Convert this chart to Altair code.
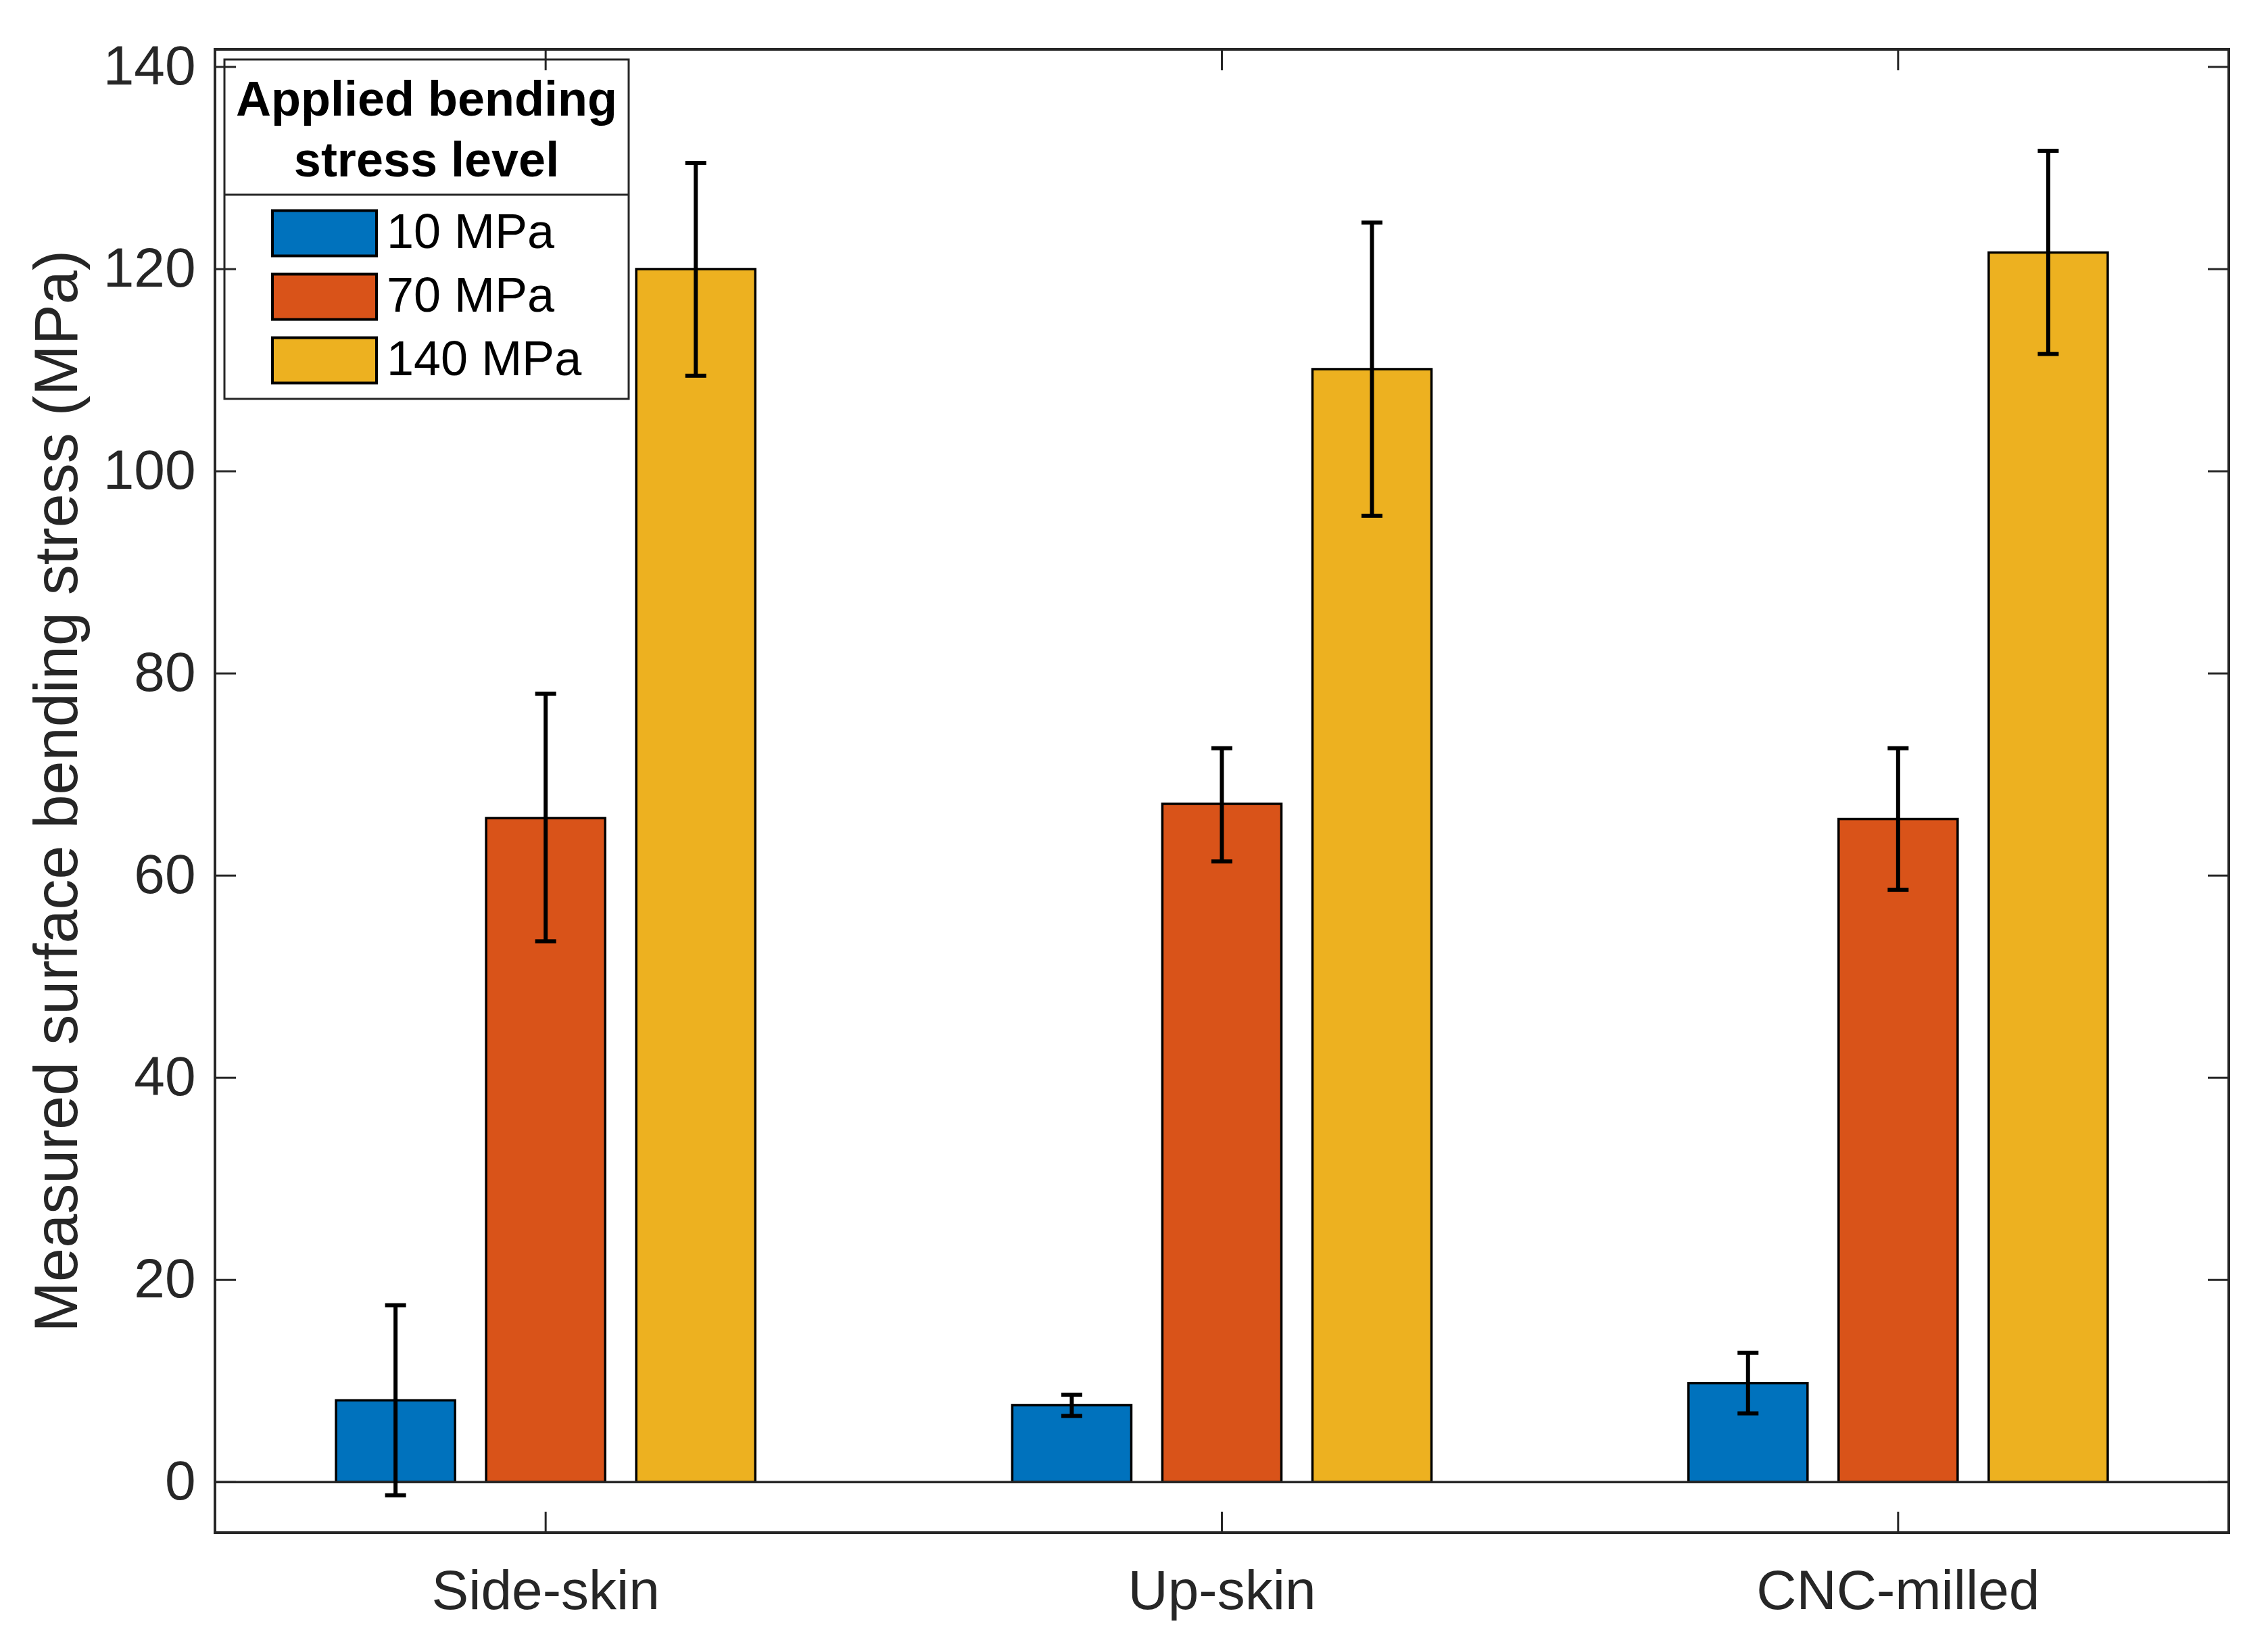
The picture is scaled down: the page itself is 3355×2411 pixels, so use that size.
import altair as alt
import pandas as pd

# ---- data ----
finishes = ["Side-skin", "Up-skin", "CNC-milled"]
levels = ["10 MPa", "70 MPa", "140 MPa"]
colors = ["#0072BD", "#D95319", "#EDB120"]

mean_10 = [8.1, 7.6, 9.8]
low_10 = [-1.3, 6.55, 6.8]
high_10 = [17.5, 8.65, 12.8]

mean_70 = [65.7, 67.1, 65.6]
low_70 = [53.5, 61.4, 58.6]
high_70 = [78.0, 72.6, 72.6]

mean_140 = [120.0, 110.1, 121.65]
low_140 = [109.45, 95.6, 111.6]
high_140 = [130.5, 124.6, 131.7]

y_ticks = [0, 20, 40, 60, 80, 100, 120, 140]
y_title = "Measured surface bending stress (MPa)"
legend_title = ["Applied bending", "stress level"]

rows = []
for lvl, ms, los, his in zip(levels, [mean_10, mean_70, mean_140],
                             [low_10, low_70, low_140], [high_10, high_70, high_140]):
    for f, m, lo, hi in zip(finishes, ms, los, his):
        rows.append({"finish": f, "level": lvl, "mean": m, "low": lo, "high": hi})
df = pd.DataFrame(rows)

W, H = 2979, 2194
FONT = "Liberation Sans"
AX = "#262626"

y_scale = alt.Scale(domain=[-5, 141.74], nice=False)
x_scale = alt.Scale(range=[-11, 2990], paddingInner=0, paddingOuter=0)
xo_scale = alt.Scale(paddingInner=0.207, paddingOuter=0.856)

x_axis = alt.Axis(orient="bottom", labelFont=FONT, labelFontSize=82, labelColor=AX,
                  labelPadding=47, labelAngle=0, labelLimit=2000, ticks=False,
                  tickSize=0, domain=False, grid=False, title=None)
y_axis = alt.Axis(orient="left", values=y_ticks, labelFont=FONT, labelFontSize=82,
                  labelColor=AX, labelPadding=29, labelLimit=2000, ticks=False,
                  tickSize=0, domain=False, grid=False, title=y_title, titleFont=FONT,
                  titleFontSize=90, titleFontWeight="normal", titleColor=AX,
                  titleX=-186, titleY=1097, titleBaseline="bottom", titleAngle=270,
                  titleAlign="center")

legend = alt.Legend(title=legend_title, orient="none", legendX=14, legendY=15,
                    direction="vertical",
                    titleFont=FONT, titleFontSize=72, titleFontWeight="bold",
                    titleColor="black", titleAlign="center", titleAnchor="middle",
                    titleBaseline="line-top", titleLineHeight=90, titlePadding=38,
                    titleLimit=2000,
                    labelFont=FONT, labelFontSize=72, labelColor="black",
                    labelOffset=13, labelLimit=2000,
                    symbolType="M-1,-0.435H1V0.435H-1Z", symbolSize=23716,
                    symbolStrokeColor="black", symbolStrokeWidth=4, symbolOffset=0,
                    clipHeight=80, rowPadding=14, padding=17, strokeColor=AX)

base = alt.Chart(df)
xenc = alt.X("finish:N", sort=finishes, scale=x_scale, axis=x_axis)
xenc_na = alt.X("finish:N", sort=finishes, scale=x_scale, axis=None)
xoff = alt.XOffset("level:N", sort=levels, scale=xo_scale)

baseline = alt.Chart(pd.DataFrame({"v": [0]})).mark_rule(color=AX, strokeWidth=3.5).encode(
    y=alt.Y("v:Q", scale=y_scale, axis=None), x=alt.value(0), x2=alt.value(W))

bars = base.mark_bar(stroke="black", strokeWidth=3.5).encode(
    x=xenc, xOffset=xoff,
    y=alt.Y("mean:Q", scale=y_scale, axis=y_axis),
    color=alt.Color("level:N", sort=levels,
                    scale=alt.Scale(domain=levels, range=colors), legend=legend))

err = base.mark_rule(color="black", strokeWidth=6).encode(
    x=xenc_na, xOffset=xoff,
    y=alt.Y("low:Q", scale=y_scale, axis=None), y2="high:Q")
cap_lo = base.mark_tick(color="black", thickness=6, size=31, opacity=1).encode(
    x=xenc_na, xOffset=xoff, y=alt.Y("low:Q", scale=y_scale, axis=None))
cap_hi = base.mark_tick(color="black", thickness=6, size=31, opacity=1).encode(
    x=xenc_na, xOffset=xoff, y=alt.Y("high:Q", scale=y_scale, axis=None))

ytick_df = pd.DataFrame({"v": y_ticks})
left_ticks = alt.Chart(ytick_df).mark_rule(color=AX, strokeWidth=3).encode(
    y=alt.Y("v:Q", scale=y_scale, axis=None), x=alt.value(0), x2=alt.value(31))
right_ticks = alt.Chart(ytick_df).mark_rule(color=AX, strokeWidth=3).encode(
    y=alt.Y("v:Q", scale=y_scale, axis=None), x=alt.value(W - 31), x2=alt.value(W))

xtick_df = pd.DataFrame({"finish": finishes})
bottom_ticks = alt.Chart(xtick_df).mark_rule(color=AX, strokeWidth=3).encode(
    x=xenc_na, y=alt.value(H - 31), y2=alt.value(H))
top_ticks = alt.Chart(xtick_df).mark_rule(color=AX, strokeWidth=3).encode(
    x=xenc_na, y=alt.value(0), y2=alt.value(31))

separator = alt.Chart(pd.DataFrame({"v": [0]})).mark_rule(color=AX, strokeWidth=3).encode(
    x=alt.value(14), x2=alt.value(611), y=alt.value(215))

chart = alt.layer(
    bars, baseline, err, cap_lo, cap_hi,
    left_ticks, right_ticks, bottom_ticks, top_ticks, separator
).resolve_axis(
    x="independent", y="independent"
).properties(
    width=W, height=H,
    padding={"left": 310, "top": 65, "right": 50, "bottom": 130},
    autosize=alt.AutoSizeParams(type="none"),
    background="white",
).configure(
    font=FONT
).configure_view(
    stroke=AX, strokeWidth=4
).configure_legend(
    strokeWidth=3
)

chart.save("out.html", embed_options={"renderer": "svg", "actions": False})
